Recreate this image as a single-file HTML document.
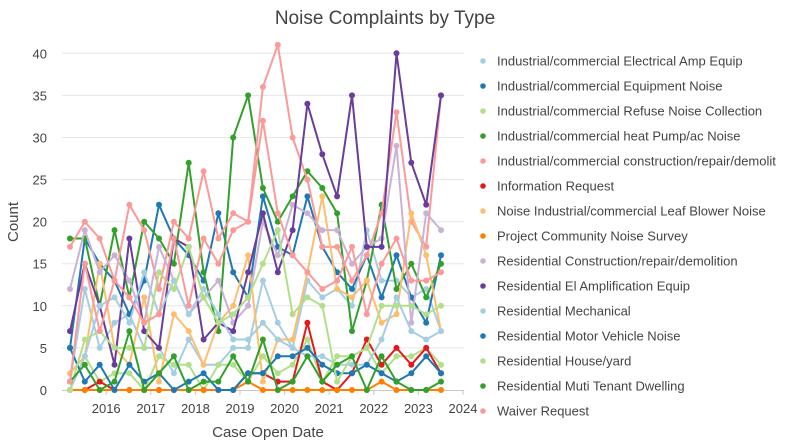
<!DOCTYPE html>
<html>
<head>
<meta charset="utf-8">
<style>
  html,body{margin:0;padding:0;background:#fff;}
  svg{display:block;}
  text{font-family:"Liberation Sans", sans-serif;fill:#444;}
</style>
</head>
<body>
<svg id="chart" width="795" height="442" viewBox="0 0 795 442" xmlns="http://www.w3.org/2000/svg">
  <rect x="0" y="0" width="795" height="442" fill="#fff"/>
  <g stroke="#e6e6e6" stroke-width="1">
    <line x1="62" x2="464" y1="347.9" y2="347.9"/>
    <line x1="62" x2="464" y1="305.8" y2="305.8"/>
    <line x1="62" x2="464" y1="263.7" y2="263.7"/>
    <line x1="62" x2="464" y1="221.7" y2="221.7"/>
    <line x1="62" x2="464" y1="179.6" y2="179.6"/>
    <line x1="62" x2="464" y1="137.5" y2="137.5"/>
    <line x1="62" x2="464" y1="95.4" y2="95.4"/>
    <line x1="62" x2="464" y1="53.3" y2="53.3"/>
  </g>
  <g stroke="#c8c8c8" stroke-width="1">
    <line x1="62" x2="464" y1="390.5" y2="390.5"/>
    <line x1="106.2" x2="106.2" y1="390" y2="395"/>
    <line x1="150.8" x2="150.8" y1="390" y2="395"/>
    <line x1="195.4" x2="195.4" y1="390" y2="395"/>
    <line x1="240" x2="240" y1="390" y2="395"/>
    <line x1="284.6" x2="284.6" y1="390" y2="395"/>
    <line x1="329.2" x2="329.2" y1="390" y2="395"/>
    <line x1="373.8" x2="373.8" y1="390" y2="395"/>
    <line x1="418.4" x2="418.4" y1="390" y2="395"/>
    <line x1="463" x2="463" y1="390" y2="395"/>
  </g>
  <g font-size="13" text-anchor="end">
    <text x="47" y="395">0</text>
    <text x="47" y="352.9">5</text>
    <text x="47" y="310.8">10</text>
    <text x="47" y="268.7">15</text>
    <text x="47" y="226.7">20</text>
    <text x="47" y="184.6">25</text>
    <text x="47" y="142.5">30</text>
    <text x="47" y="100.4">35</text>
    <text x="47" y="58.3">40</text>
  </g>
  <g font-size="13" text-anchor="middle">
    <text x="106.2" y="413">2016</text>
    <text x="150.8" y="413">2017</text>
    <text x="195.4" y="413">2018</text>
    <text x="240" y="413">2019</text>
    <text x="284.6" y="413">2020</text>
    <text x="329.2" y="413">2021</text>
    <text x="373.8" y="413">2022</text>
    <text x="418.4" y="413">2023</text>
    <text x="463" y="413">2024</text>
  </g>
  <text x="385" y="24" font-size="19" text-anchor="middle">Noise Complaints by Type</text>
  <text x="268" y="437" font-size="15" text-anchor="middle">Case Open Date</text>
  <text transform="translate(18,222) rotate(-90)" font-size="15" text-anchor="middle">Count</text>

  <g id="series"></g>

  <g font-size="13">
    <circle cx="483" cy="61" r="2.8" fill="#a6cee3"/><text x="497" y="65.5">Industrial/commercial Electrical Amp Equip</text>
    <circle cx="483" cy="86" r="2.8" fill="#1f78b4"/><text x="497" y="90.5">Industrial/commercial Equipment Noise</text>
    <circle cx="483" cy="111" r="2.8" fill="#b2df8a"/><text x="497" y="115.5">Industrial/commercial Refuse Noise Collection</text>
    <circle cx="483" cy="136" r="2.8" fill="#33a02c"/><text x="497" y="140.5">Industrial/commercial heat Pump/ac Noise</text>
    <circle cx="483" cy="161" r="2.8" fill="#fb9a99"/><text x="497" y="165.5">Industrial/commercial construction/repair/demolit</text>
    <circle cx="483" cy="186" r="2.8" fill="#e31a1c"/><text x="497" y="190.5">Information Request</text>
    <circle cx="483" cy="211" r="2.8" fill="#fdbf6f"/><text x="497" y="215.5">Noise Industrial/commercial Leaf Blower Noise</text>
    <circle cx="483" cy="236" r="2.8" fill="#ff7f00"/><text x="497" y="240.5">Project Community Noise Survey</text>
    <circle cx="483" cy="261" r="2.8" fill="#cab2d6"/><text x="497" y="265.5">Residential Construction/repair/demolition</text>
    <circle cx="483" cy="286" r="2.8" fill="#6a3d9a"/><text x="497" y="290.5">Residential El Amplification Equip</text>
    <circle cx="483" cy="311" r="2.8" fill="#a6cee3"/><text x="497" y="315.5">Residential Mechanical</text>
    <circle cx="483" cy="336" r="2.8" fill="#1f78b4"/><text x="497" y="340.5">Residential Motor Vehicle Noise</text>
    <circle cx="483" cy="361" r="2.8" fill="#b2df8a"/><text x="497" y="365.5">Residential House/yard</text>
    <circle cx="483" cy="386" r="2.8" fill="#33a02c"/><text x="497" y="390.5">Residential Muti Tenant Dwelling</text>
    <circle cx="483" cy="411" r="2.8" fill="#fb9a99"/><text x="497" y="415.5">Waiver Request</text>
  </g>
</svg>
<script>
(function(){
  var NS = "http://www.w3.org/2000/svg";
  var g = document.getElementById("series");
  function X(i){ return 70 + 14.84*i; }
  function Y(v){ return 390 - 8.417*v; }
  var S = [
    ["#a6cee3",[1,12,5,8,9,5,5,2,6,3,3,5,5,13,8,5,13,11,12,10,19,13,13,11,12,7]],
    ["#1f78b4",[5,18,15,13,9,13,22,18,16,13,21,14,11,23,17,16,23,17,14,12,16,11,16,11,8,16]],
    ["#b2df8a",[0,4,1,2,2,0,4,3,3,0,3,3,1,4,2,3,6,1,4,4,5,2,4,4,5,3]],
    ["#33a02c",[18,18,10,19,11,20,18,15,27,14,7,30,35,24,20,23,26,24,21,7,13,22,12,15,11,15]],
    ["#fb9a99",[17,20,18,13,22,19,12,20,18,26,18,21,20,36,41,30,25,17,17,13,16,21,33,20,17,35]],
    ["#e31a1c",[0,0,1,0,0,0,0,0,0,0,0,0,2,2,1,1,8,1,0,2,6,3,5,3,5,2]],
    ["#fdbf6f",[2,4,15,5,3,11,1,9,7,3,8,10,16,1,6,6,14,23,12,11,13,8,9,21,16,7]],
    ["#ff7f00",[0,0,0,0,0,0,0,0,0,0,0,0,1,0,0,0,0,0,0,0,0,1,0,0,0,0]],
    ["#cab2d6",[12,19,14,16,13,8,17,13,9,11,13,8,10,20,16,22,21,19,19,15,17,18,29,8,21,19]],
    ["#6a3d9a",[7,15,10,3,18,7,5,18,17,6,8,7,14,21,14,19,34,28,23,35,17,17,40,27,22,35]],
    ["#a6cee3",[0,4,10,11,8,14,9,13,9,12,9,6,6,8,6,5,4,4,3,3,3,6,11,7,6,7]],
    ["#1f78b4",[5,1,3,0,3,1,2,0,1,2,0,0,2,2,4,4,5,3,2,2,3,2,1,2,4,2]],
    ["#b2df8a",[0,6,7,5,5,5,14,12,17,11,8,9,11,15,19,9,11,10,1,4,5,10,10,10,9,10]],
    ["#33a02c",[1,3,0,1,7,0,2,4,0,1,1,4,1,6,0,1,4,1,3,4,0,4,1,0,0,1]],
    ["#fb9a99",[1,15,7,13,11,8,9,18,10,18,15,19,20,32,21,16,14,12,13,17,9,15,18,13,13,14]]
  ];
  S.forEach(function(s){
    var col = s[0], d = s[1];
    var pts = d.map(function(v,i){ return X(i).toFixed(1)+","+Y(v).toFixed(1); }).join(" ");
    var pl = document.createElementNS(NS,"polyline");
    pl.setAttribute("points",pts);
    pl.setAttribute("fill","none");
    pl.setAttribute("stroke",col);
    pl.setAttribute("stroke-width","2");
    pl.setAttribute("stroke-linejoin","round");
    g.appendChild(pl);
    d.forEach(function(v,i){
      var c = document.createElementNS(NS,"circle");
      c.setAttribute("cx",X(i).toFixed(1));
      c.setAttribute("cy",Y(v).toFixed(1));
      c.setAttribute("r","3");
      c.setAttribute("fill",col);
      g.appendChild(c);
    });
  });
})();
</script>
</body>
</html>
